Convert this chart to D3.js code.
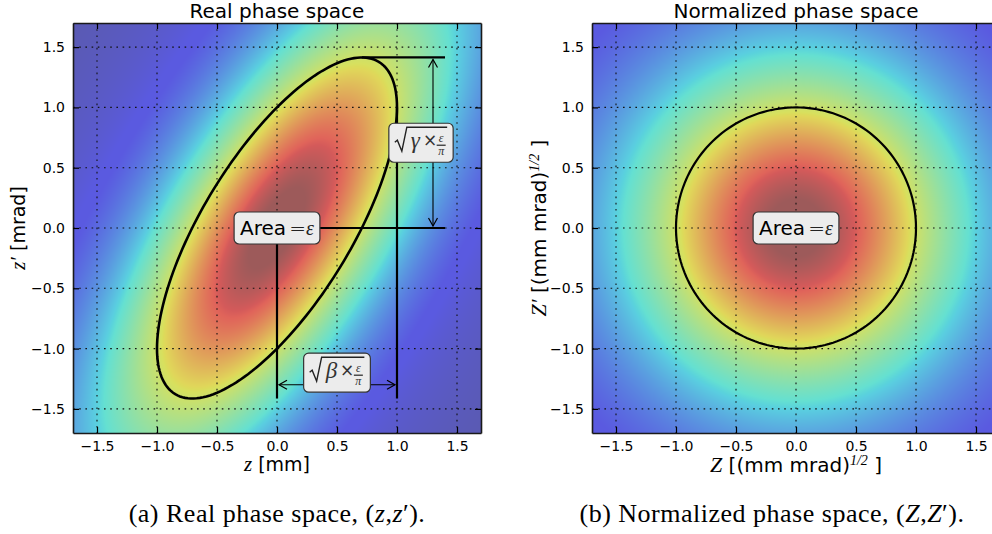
<!DOCTYPE html>
<html>
<head>
<meta charset="utf-8">
<script src="https://cdn.jsdelivr.net/npm/d3@7"></script>
<style>
body { margin: 0; background: #fff; }
</style>
</head>
<body>
<div class="graphic"></div>
<script>
var width = 992;
var height = 534;

// shared axis range and ticks
var axisDomain = [-1.7, 1.7];
var tickValues = [-1.5, -1.0, -0.5, 0.0, 0.5, 1.0, 1.5];

// Twiss parameters of the beam: alpha, beta, gamma ; emittance eps/pi
var twiss = [-1, 1, 2];
var emittance = [1];
// beam density: core and halo gaussians, rms width (normalized units) and colour weight
var beamSpread = [0.91, 2.24];
var beamWeight = [0.88, 0.15];

var panelTitles = ["Real phase space", "Normalized phase space"];
var panelLeft = [73, 592];
var captionCenters = [277, 772];

var svg = d3.select("div.graphic").append("svg")
	.attr("width", width)
	.attr("height", height);

var plotW = 408, plotTop = 23, plotBottom = 433;

// matplotlib "jet", washed out like the reference
var jetR = d3.scaleLinear().domain([0, 0.35, 0.66, 0.89, 1]).range([0, 0, 1, 1, 0.5]).clamp(true);
var jetG = d3.scaleLinear().domain([0, 0.125, 0.375, 0.64, 0.91, 1]).range([0, 0, 1, 1, 0, 0]).clamp(true);
var jetB = d3.scaleLinear().domain([0, 0.11, 0.34, 0.65, 1]).range([0.5, 1, 1, 0, 0]).clamp(true);
function shade(c){ return Math.round(90 + 134 * c); }

function density(r2){
	var v = 0;
	for (var n = 0; n < beamSpread.length; n++){
		v += beamWeight[n] * Math.exp(-r2 / (2 * beamSpread[n] * beamSpread[n]));
	}
	return v;
}

function drawHeat(g, x, y, radius2){
	var w = plotW, h = plotBottom - plotTop;
	var canvas = document.createElement("canvas");
	canvas.width = w; canvas.height = h;
	var ctx = canvas.getContext("2d");
	var img = ctx.createImageData(w, h);
	for (var j = 0; j < h; j++){
		var zp = y.invert(plotTop + j + 0.5);
		for (var i = 0; i < w; i++){
			var z = x.invert(x.range()[0] + i + 0.5);
			var v = density(radius2(z, zp));
			var k = 4 * (j * w + i);
			img.data[k] = shade(jetR(v));
			img.data[k+1] = shade(jetG(v));
			img.data[k+2] = shade(jetB(v));
			img.data[k+3] = 255;
		}
	}
	ctx.putImageData(img, 0, 0);
	g.append("image")
		.attr("x", x.range()[0]).attr("y", plotTop)
		.attr("width", w).attr("height", h)
		.attr("href", canvas.toDataURL());
}

function ellipsePoints(a, b){
	var eps = emittance[0];
	return d3.range(0, 361, 2).map(function(d){
		var t = d * Math.PI / 180;
		return [Math.sqrt(b * eps) * Math.cos(t), -Math.sqrt(eps / b) * (a * Math.cos(t) + Math.sin(t))];
	});
}

function drawFrame(g, x, y){
	var grid = g.append("g");
	tickValues.forEach(function(t){
		grid.append("line").attr("x1", x(t)).attr("x2", x(t)).attr("y1", plotTop).attr("y2", plotBottom);
		grid.append("line").attr("y1", y(t)).attr("y2", y(t)).attr("x1", x.range()[0]).attr("x2", x.range()[1]);
	});
	grid.selectAll("line").attr("stroke", "#111").attr("stroke-width", 1.1).attr("stroke-dasharray", "1.6,4.6");
}

function drawAxes(g, x, y){
	var fmt = d3.format(".1f");
	var ax = [
		[d3.axisBottom(x), "translate(0," + plotBottom + ")"],
		[d3.axisTop(x), "translate(0," + plotTop + ")"],
		[d3.axisLeft(y), "translate(" + x.range()[0] + ",0)"],
		[d3.axisRight(y), "translate(" + x.range()[1] + ",0)"]
	];
	ax.forEach(function(a, i){
		var sel = g.append("g").attr("transform", a[1])
			.call(a[0].tickValues(tickValues).tickFormat(fmt).tickSizeInner(-6).tickSizeOuter(0).tickPadding(8));
		sel.select(".domain").attr("stroke", "#1a1a1a").attr("stroke-width", 1.6);
		sel.selectAll(".tick line").attr("stroke", "#000").attr("stroke-width", 1.2);
		sel.selectAll("text").attr("font-family", "DejaVu Sans").attr("font-size", 14).attr("fill", "#000");
		if (i == 1 || i == 3) sel.selectAll("text").remove();
	});
}

function labelBox(g, cx, cy, build){
	var box = g.append("g").attr("transform", "translate(" + cx + "," + cy + ")");
	var rect = box.append("rect");
	var inner = box.append("g");
	build(inner);
	var bb = inner.node().getBBox();
	inner.attr("transform", "translate(" + (-(bb.x + bb.width / 2)) + "," + (-(bb.y + bb.height / 2)) + ")");
	rect.attr("x", -bb.width / 2 - 6).attr("y", -bb.height / 2 - 4)
		.attr("width", bb.width + 12).attr("height", bb.height + 8)
		.attr("rx", 5).attr("fill", "#ececec").attr("stroke", "#333").attr("stroke-width", 1.2);
}

function areaText(inner){
	var t = inner.append("text").attr("y", 7).attr("font-family", "DejaVu Sans").attr("font-size", 20);
	t.append("tspan").text("Area");
	t.append("tspan").attr("dx", 3).attr("font-family", "DejaVu Sans").attr("font-weight", 300).attr("fill", "#222").text("=");
	t.append("tspan").attr("font-family", "Liberation Serif").attr("font-style", "italic").attr("fill", "#222").text("ε");
}

function sqrtText(sym){
	return function(inner){
		var t = inner.append("text").attr("x", -12).attr("y", 7).attr("fill", "#333");
		t.append("tspan").attr("font-family", "Liberation Serif").attr("font-style", "italic").attr("font-size", 23).text(sym);
		t.append("tspan").attr("dx", 3).attr("dy", -2).attr("font-family", "DejaVu Sans").attr("font-size", 17).text("×");
		var fx = -12 + t.node().getComputedTextLength() + 7;
		inner.append("path").attr("d", "M-28,1 L-25.5,-1 L-21,10 L-16,-14 L" + (fx + 6) + ",-14")
			.attr("fill", "none").attr("stroke", "#222").attr("stroke-width", 1.4);
		inner.append("text").attr("x", fx).attr("y", 1).attr("text-anchor", "middle").attr("font-family", "Liberation Serif")
			.attr("font-style", "italic").attr("font-size", 12).attr("fill", "#333").text("ε");
		inner.append("line").attr("x1", fx - 4.5).attr("x2", fx + 4.5).attr("y1", 4).attr("y2", 4).attr("stroke", "#333").attr("stroke-width", 1.3);
		inner.append("text").attr("x", fx).attr("y", 14).attr("text-anchor", "middle").attr("font-family", "Liberation Serif")
			.attr("font-style", "italic").attr("font-size", 12).attr("fill", "#333").text("π");
	};
}

svg.append("defs").append("marker")
	.attr("id", "head").attr("viewBox", "-10 -6 12 12")
	.attr("markerWidth", 12).attr("markerHeight", 12).attr("refX", 0).attr("refY", 0)
	.attr("markerUnits", "userSpaceOnUse").attr("orient", "auto-start-reverse")
	.append("path").attr("d", "M-8,-4.5 L0,0 L-8,4.5").attr("fill", "none").attr("stroke", "#000").attr("stroke-width", 1.2);

var alpha = twiss[0], beta = twiss[1], gamma = twiss[2], eps = emittance[0];

// ---------- panel (a): real phase space ----------
var xA = d3.scaleLinear().domain(axisDomain).range([panelLeft[0], panelLeft[0] + plotW]);
var yA = d3.scaleLinear().domain(axisDomain).range([plotBottom, plotTop]);
var gA = svg.append("g");
drawHeat(gA, xA, yA, function(z, zp){ return (gamma * z * z + 2 * alpha * z * zp + beta * zp * zp) / eps; });
drawFrame(gA, xA, yA);

var line = function(x, y){ return d3.line().x(function(d){ return x(d[0]); }).y(function(d){ return y(d[1]); }); };
gA.append("path").attr("d", line(xA, yA)(ellipsePoints(alpha, beta)))
	.attr("fill", "none").attr("stroke", "#000").attr("stroke-width", 2.6);

var zpMax = Math.sqrt(gamma * eps), zAtZpMax = -alpha * Math.sqrt(eps / gamma);
var zMax = Math.sqrt(beta * eps), zpAtZMax = -alpha * Math.sqrt(eps / beta);
var guideLines = [
	[[zAtZpMax, zpMax], [1.4, zpMax]],
	[[0, 0], [1.4, 0]],
	[[0, 0], [0, -zpMax]],
	[[zMax, zpAtZMax], [zMax, -zpMax]]
];
var arrowLines = [
	[[1.3, 0], [1.3, zpMax]],
	[[0, -1.3], [zMax, -1.3]]
];
guideLines.forEach(function(l){
	gA.append("path").attr("d", line(xA, yA)(l)).attr("stroke", "#000").attr("stroke-width", 2.2);
});
arrowLines.forEach(function(l){
	var p = [[xA(l[0][0]), yA(l[0][1])], [xA(l[1][0]), yA(l[1][1])]];
	var dx = p[1][0] - p[0][0], dy = p[1][1] - p[0][1], len = Math.sqrt(dx * dx + dy * dy);
	gA.append("line")
		.attr("x1", p[0][0] + 2 * dx / len).attr("y1", p[0][1] + 2 * dy / len)
		.attr("x2", p[1][0] - 2 * dx / len).attr("y2", p[1][1] - 2 * dy / len)
		.attr("stroke", "#000").attr("stroke-width", 1.1)
		.attr("marker-start", "url(#head)").attr("marker-end", "url(#head)");
});
labelBox(gA, xA(0), yA(0), areaText);
labelBox(gA, xA(1.2), yA(zpMax / 2), sqrtText("γ"));
labelBox(gA, xA(zMax / 2), yA(-1.2), sqrtText("β"));
drawAxes(gA, xA, yA);

// ---------- panel (b): normalized phase space ----------
var xB = d3.scaleLinear().domain(axisDomain).range([panelLeft[1], panelLeft[1] + plotW]);
var yB = d3.scaleLinear().domain(axisDomain).range([plotBottom, plotTop]);
var gB = svg.append("g");
drawHeat(gB, xB, yB, function(z, zp){ return (z * z + zp * zp) / eps; });
drawFrame(gB, xB, yB);
gB.append("path").attr("d", line(xB, yB)(ellipsePoints(0, 1)))
	.attr("fill", "none").attr("stroke", "#000").attr("stroke-width", 2.2);
labelBox(gB, xB(0), yB(0), areaText);
drawAxes(gB, xB, yB);

// ---------- titles, axis labels, captions ----------
var centers = [xA(0), xB(0)];
panelTitles.forEach(function(t, i){
	svg.append("text").attr("x", centers[i]).attr("y", 18).attr("text-anchor", "middle")
		.attr("font-family", "DejaVu Sans").attr("font-size", 20).text(t);
});

function mathLabel(sel, sym, rest, sup, size){
	sel.attr("font-family", "DejaVu Sans").attr("font-size", size).attr("text-anchor", "middle");
	sel.append("tspan").attr("font-family", "Liberation Serif").attr("font-style", "italic").attr("font-size", size + 2).text(sym);
	sel.append("tspan").text(rest);
	if (sup){
		sel.append("tspan").attr("font-family", "Liberation Serif").attr("font-style", "italic").attr("font-size", 14).attr("dy", -7).text(sup);
		sel.append("tspan").attr("dy", 7).text(" ]");
	}
}
mathLabel(svg.append("text").attr("x", xA(0)).attr("y", 471), "z", " [mm]", null, 19);
mathLabel(svg.append("text").attr("transform", "translate(25," + yA(0) + ") rotate(-90)"), "z′", " [mrad]", null, 19);
mathLabel(svg.append("text").attr("x", xB(0)).attr("y", 472), "Z", " [(mm mrad)", "1/2", 20);
mathLabel(svg.append("text").attr("transform", "translate(546," + yB(0) + ") rotate(-90)"), "Z′", "  [(mm mrad)", "1/2", 20);

var captionParts = [
	["(a) Real phase space, (", "z", ",", "z", "′)."],
	["(b) Normalized phase space, (", "Z", ",", "Z", "′)."]
];
captionParts.forEach(function(parts, i){
	var t = svg.append("text").attr("x", captionCenters[i]).attr("y", 522).attr("text-anchor", "middle")
		.attr("font-family", "Liberation Serif").attr("font-size", 26).attr("letter-spacing", 0.5);
	parts.forEach(function(p, k){
		t.append("tspan").attr("font-style", (k == 1 || k == 3) ? "italic" : "normal").text(p);
	});
});
</script>
</body>
</html>
